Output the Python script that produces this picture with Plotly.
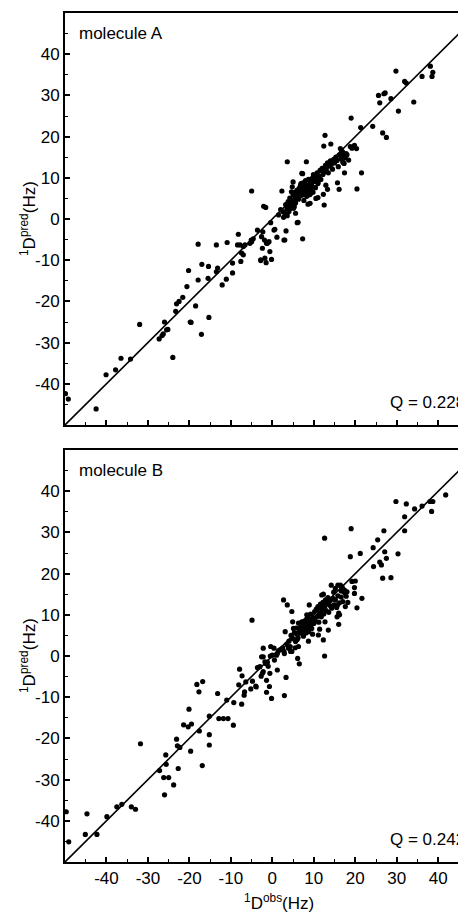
import plotly.graph_objects as go

# ---------------- data ----------------
obs_A = [-49.9, -49.2, -42.5, -40.1, -37.8, -36.5, -34.2, -32.0, -27.3, -26.6, -26.3, -26.0, -25.5, -25.2,
         -24.0, -23.3, -23.1, -22.5, -21.6, -20.6, -20.2, -19.8, -19.6, -18.5, -17.9, -17.9, -17.1, -17.0,
         -15.4, -15.3, -15.5, -13.5, -13.2, -13.5, -12.1, -11.1, -10.9, -9.6, -9.6, -8.2, -8.4, -7.6, -7.4,
         -7.0, -6.6, -7.8, -7.0, -5.4, -5.0, -5.1, -4.6, -5.0, -3.6, -2.8, -2.3, -2.1, -1.6, -2.4, -1.9,
         -1.5, -1.2, -0.8, -0.6, -0.4, -0.2, 0.4, 1.1, 2.3, 2.7, 3.0, 3.0, 3.3, 3.6, 8.2, 7.1, 6.0, 7.3,
         -2.6, -1.4, -1.8, -2.8, 0.6, 2.8,
         1.5, 2.0, 2.5, 3.2, 3.5, 3.8, 4.0, 4.2, 4.5, 4.8, 5.0, 5.2, 5.5, 5.6, 5.8, 6.0, 6.2, 6.3, 6.5, 6.6,
         6.8, 7.0, 7.1, 7.2, 7.4, 7.5, 7.6, 7.8, 7.9, 8.0, 8.1, 8.3, 8.4, 8.5, 8.7, 8.8, 9.0, 9.1, 9.3, 9.5,
         9.6, 9.8, 10.0, 10.2, 10.4, 10.6, 10.8, 11.0, 11.2, 11.5, 11.7, 12.0, 12.2, 12.5, 12.8, 13.0, 13.3,
         13.5, 13.8, 14.0, 14.2, 14.5, 14.8, 15.0, 15.3, 15.6, 15.9, 16.2, 16.5, 16.8, 17.0, 17.2, 17.6, 18.0,
         18.4, 18.8, 19.2,
         3.6, 4.0, 4.4, 5.1, 5.6, 6.2, 5.0, 4.8, 7.3, 8.6, 9.1, 10.5, 11.0, 12.5, 12.3, 12.9, 13.3, 11.0,
         14.1, 12.4, 12.7, 15.7, 16.1, 16.4, 16.9, 17.4, 17.8, 17.3, 17.4, 19.8, 19.5, 20.3, 20.4, 21.3,
         21.5, 19.0, 6.9, 7.7, 8.9, 9.4, 6.4, 7.6, 10.9, 9.9, 5.3, 4.6,
         24.2, 25.6, 25.9, 26.9, 27.2, 26.6, 27.5, 28.6, 29.8, 30.4, 31.9, 32.3, 34.1, 36.1, 38.1, 38.7, 38.5]
pred_A = [-42.4, -43.7, -46.1, -37.8, -36.6, -33.8, -34.0, -25.6, -29.1, -28.3, -27.9, -25.0, -26.9, -26.8,
          -33.6, -22.4, -20.6, -20.0, -19.0, -16.4, -12.5, -25.0, -25.1, -21.1, -6.1, -14.8, -28.0, -11.0,
          -11.5, -23.9, -14.4, -6.3, -11.9, -12.8, -16.0, -14.6, -5.7, -13.1, -10.7, -3.7, -6.3, -10.3, -8.3,
          -8.7, -6.3, -6.3, -6.7, -5.9, -5.5, -5.1, -4.8, 6.8, -2.7, -9.9, -3.1, 3.1, 2.8, -7.1, -5.1,
          -10.6, -5.9, -5.5, -7.9, -0.9, -9.8, -2.7, -4.4, 6.8, 0.4, 1.4, -5.1, -2.9, 13.9, 13.9, 11.1, -0.9, -4.8,
          -4.3, -5.9, -9.5, -10.1, -2.5, -5.1,
          1.0, 2.3, 1.8, 3.5, 2.5, 4.2, 3.0, 5.1, 4.0, 3.6, 5.8, 4.6, 6.5, 3.9, 5.3, 7.0, 6.0, 4.8, 7.5, 5.5,
          8.2, 6.6, 7.3, 5.8, 8.8, 6.9, 4.5, 7.8, 6.2, 9.3, 7.2, 5.5, 8.1, 6.7, 9.6, 7.5, 5.9, 8.6, 7.0, 9.8,
          8.0, 6.5, 9.1, 10.4, 7.6, 9.7, 11.2, 8.9, 10.5, 11.8, 9.6, 12.3, 10.8, 11.4, 13.0, 12.0, 13.6,
          11.2, 12.8, 14.1, 13.2, 12.1, 14.5, 13.6, 15.0, 14.2, 12.7, 15.6, 14.6, 16.4, 13.8, 15.3, 14.8, 15.6,
          14.3, 17.6, 17.2,
          0.8, 1.8, 2.6, 2.6, 1.4, -0.8, 9.0, 7.8, 11.0, 3.6, 3.8, 5.0, 5.2, 3.4, 6.0, 8.2, 7.2, 8.6,
          18.2, 17.7, 20.3, 8.8, 7.2, 17.1, 16.3, 15.5, 15.9, 13.5, 11.2, 17.9, 17.5, 17.1, 7.3, 22.2,
          11.2, 24.5, 8.6, 7.0, 8.0, 6.3, 6.8, 8.4, 9.0, 10.8, 3.0, 6.6,
          22.5, 30.0, 28.2, 30.4, 30.6, 20.9, 19.8, 29.2, 35.9, 26.2, 33.4, 33.0, 28.4, 34.6, 37.1, 35.6, 34.6]

obs_B = [-49.7, -49.1, -45.1, -44.7, -42.3, -39.9, -37.5, -36.3, -34.0, -33.0, -31.8, -27.2, -26.2, -25.0,
         -26.0, -25.7, -25.6, -23.8, -23.1, -22.9, -22.3, -22.7, -21.4, -20.3, -19.5, -20.1, -19.7, -18.2,
         -17.7, -17.6, -16.8, -16.9, -15.2, -15.2, -15.2, -13.2, -12.9, -11.8, -10.7, -11.0, -9.4, -9.3,
         -7.9, -7.4, -7.3, -5.2, -3.9, -8.1, -6.7, -6.8, -6.4, -4.9, -4.8, -4.0,
         -3.6, -3.0, -2.7, -2.4, -2.2, -2.2, -2.2, -1.8, -1.6, -1.4, -1.4, -0.7, -0.6, -0.4, -0.2, 0.4, 1.0,
         1.2, 1.2, 2.7, 2.8, 2.9, 2.9, 3.1, 3.3, 3.6, 3.9, 4.3, 4.4, 4.7, 4.7, 4.9, 5.1, 5.5, 5.6, 6.0, 6.2,
         6.1, 6.5, 6.3, 7.1, 8.3, 8.9, 8.7, 9.5, 11.1, 11.4, 11.5, 11.9, 12.3, 12.6, 12.6, 12.7, 13.5, 14.2,
         15.7, 16.0, 16.0, 15.6, 16.2, 16.4, 16.8, 17.2, 17.6, 18.0, 17.6, 18.8, 19.0, 19.2, 20.0, 19.8, 19.8,
         20.4, 21.2, 21.6, 14.8, 15.2, 15.8, 16.9, 16.6, 12.3,
         6.5, 6.8, 7.0, 7.2, 7.4, 7.5, 7.7, 7.8, 8.0, 8.1, 8.2, 8.4, 8.5, 8.6, 8.8, 8.9, 9.0, 9.2, 9.3, 9.5,
         9.7, 9.8, 10.0, 10.2, 10.4, 10.6, 10.8, 11.0, 11.2, 11.4, 11.6, 11.8, 12.0, 12.2, 12.4, 12.6, 12.8,
         13.0, 13.2, 13.4, 13.6, 13.8, 14.0, 14.3, 14.6, 14.9, 15.2, 15.5, 15.8, 16.2, 16.6, 17.0, 17.4,
         17.8, 18.2,
         4.0, 4.5, 5.0, 5.3, 5.8, 6.0, 6.3, 3.5, 2.5, 2.0, 1.5, 0.0, -0.5, -1.2, -2.6, -1.0, 0.5,
         24.3, 24.4, 25.4, 25.9, 26.3, 26.6, 26.9, 27.1, 27.5, 28.6, 29.8, 30.3, 31.9, 31.9, 32.3, 34.3,
         36.1, 38.0, 38.7, 38.4, 41.8]
pred_B = [-37.8, -45.1, -43.3, -38.3, -43.3, -39.0, -36.6, -36.0, -36.6, -37.2, -21.3, -27.8, -29.5, -29.5,
          -33.7, -24.0, -26.3, -31.3, -20.2, -21.8, -22.2, -27.3, -16.7, -17.2, -16.5, -12.9, -23.1, -6.9,
          -8.7, -18.2, -6.2, -26.6, -14.6, -19.1, -21.6, -9.1, -15.2, -15.2, -15.2, -10.7, -16.8, -11.3,
          -3.2, -11.7, -4.8, -8.0, -7.5, -7.0, -8.7, -9.5, -6.3, 8.7, -6.1, -7.3,
          -2.8, -2.6, -4.9, -4.2, -3.8, 1.9, -0.2, -1.4, -1.8, -5.9, -8.8, -7.4, -4.2, 2.3, -10.3, 1.9, 0.2,
          0.6, -3.4, 13.6, 1.1, 0.6, -9.6, 5.9, -5.2, 12.4, 1.9, 2.3, 1.1, 1.1, 10.8, 8.3, 6.7, 2.0, 3.5, 5.2, 4.4,
          -0.6, -1.9, 2.3, 8.3, 10.0, 12.4, 3.6, 6.7, 5.1, 6.5, 11.6, 14.8, 3.9, 28.6, 0.0, 8.3, 6.3, 17.2,
          12.4, 7.7, 10.4, 9.5, 10.0, 17.2, 16.8, 15.6, 15.2, 15.6, 12.0, 24.1, 30.9, 18.1, 18.2, 15.2, 16.6,
          11.7, 24.9, 14.0, 15.5, 16.4, 17.2, 16.4, 15.8, 15.0,
          5.8, 7.0, 5.5, 6.3, 7.6, 4.8, 8.5, 6.6, 7.3, 5.6, 8.9, 6.2, 7.8, 9.4, 5.9, 8.2, 6.8, 10.2, 7.5, 8.7,
          5.3, 9.3, 7.9, 10.8, 8.5, 11.4, 9.6, 12.0, 8.2, 10.4, 12.6, 9.5, 11.3, 13.0, 10.2, 12.0, 13.6,
          11.0, 12.8, 14.2, 10.6, 12.3, 13.5, 11.6, 14.0, 12.4, 13.6, 11.8, 14.6, 12.9, 14.3, 13.2, 16.0,
          14.5, 13.0,
          3.6, 5.0, 4.2, 5.6, 6.8, 4.0, 8.0, 2.8, 2.0, 1.6, 1.3, 0.2, 0.0, -1.5, -0.2, -2.5, -1.0,
          26.3, 21.7, 28.2, 22.8, 22.1, 18.9, 30.4, 25.3, 23.7, 19.0, 37.5, 24.8, 33.8, 30.4, 36.9, 35.7,
          36.4, 37.5, 37.5, 35.1, 39.1]

identity = [-50, 50]
tick_vals = [-40, -30, -20, -10, 0, 10, 20, 30, 40]
tick_text = ["-40", "-30", "-20", "-10", "0", "10", "20", "30", "40"]
panel_names = ["molecule A", "molecule B"]
q_values = ["Q = 0.228", "Q = 0.242"]

# ---------------- figure ----------------
# page body has an 8px margin, so the figure is sized/positioned to land where the reference panels are
FONT = "Liberation Sans, Arial, sans-serif"
W, H = 458, 907
ML, MR, MT, MB = 57, 0, 5, 53
plot_h = H - MT - MB
panel_h = 412
gap = plot_h - 2 * panel_h

fig = go.Figure()
marker = dict(color="black", size=5.2, line=dict(width=0))
line = dict(color="black", width=1.6)

fig.add_trace(go.Scatter(x=obs_A, y=pred_A, mode="markers", marker=marker, xaxis="x", yaxis="y", showlegend=False))
fig.add_trace(go.Scatter(x=identity, y=identity, mode="lines", line=line, xaxis="x", yaxis="y", showlegend=False))
fig.add_trace(go.Scatter(x=obs_B, y=pred_B, mode="markers", marker=marker, xaxis="x2", yaxis="y2", showlegend=False))
fig.add_trace(go.Scatter(x=identity, y=identity, mode="lines", line=line, xaxis="x2", yaxis="y2", showlegend=False))

xr = [-50, -50 + (W - ML - MR) / 4.147]

def xax(show_labels, anchor):
    return dict(range=xr, anchor=anchor, showgrid=False, zeroline=False,
                showline=True, linecolor="black", linewidth=2, mirror=True,
                ticks="inside", ticklen=5, tickwidth=1.5, tickcolor="black",
                tickvals=tick_vals, ticktext=tick_text, showticklabels=show_labels,
                tickfont=dict(family=FONT, size=17, color="black"),
                minor=dict(ticks="inside", ticklen=3, tickwidth=1.3, tickcolor="black", dtick=5, tick0=5))

def yax(domain, anchor):
    return dict(range=[-50, 50], domain=domain, anchor=anchor, showgrid=False, zeroline=False,
                showline=True, linecolor="black", linewidth=2, mirror=False,
                ticks="inside", ticklen=5, tickwidth=1.5, tickcolor="black",
                tickvals=tick_vals, ticktext=tick_text,
                tickfont=dict(family=FONT, size=17, color="black"),
                minor=dict(ticks="inside", ticklen=3, tickwidth=1.3, tickcolor="black", dtick=5, tick0=5))

top_dom = [(panel_h + gap) / plot_h, 1]
bot_dom = [0, panel_h / plot_h]

fig.update_layout(
    width=W, height=H,
    margin=dict(l=ML, r=MR, t=MT, b=MB, pad=0),
    paper_bgcolor="white", plot_bgcolor="white",
    xaxis=xax(False, "y"),
    yaxis=yax(top_dom, "x"),
    xaxis2=xax(True, "y2"),
    yaxis2=yax(bot_dom, "x2"),
    font=dict(family=FONT, color="black"),
)

ann = []
for i, (xa, ya) in enumerate([("x", "y"), ("x2", "y2")]):
    ann.append(dict(x=-47.0, y=45.0, xref=xa, yref=ya, text=panel_names[i], showarrow=False,
                    xanchor="left", yanchor="middle", font=dict(family=FONT, size=17, color="black")))
    ann.append(dict(x=27.9, y=-44.6, xref=xa, yref=ya, text=q_values[i], showarrow=False,
                    xanchor="left", yanchor="middle", font=dict(family=FONT, size=17, color="black")))
    dom = top_dom if i == 0 else bot_dom
    ann.append(dict(x=0, y=(dom[0] + dom[1]) / 2, xref="paper", yref="paper", xshift=-37,
                    text="<sup>1</sup>D<sup>pred</sup>(Hz)", textangle=-90, showarrow=False,
                    xanchor="center", yanchor="middle", font=dict(family=FONT, size=17, color="black")))
ann.append(dict(x=1.5, y=0, xref="x2", yref="paper", yshift=-40,
                text="<sup>1</sup>D<sup>obs</sup>(Hz)", showarrow=False,
                xanchor="center", yanchor="middle", font=dict(family=FONT, size=17, color="black")))
fig.update_layout(annotations=ann)

fig.write_html("out.html")
